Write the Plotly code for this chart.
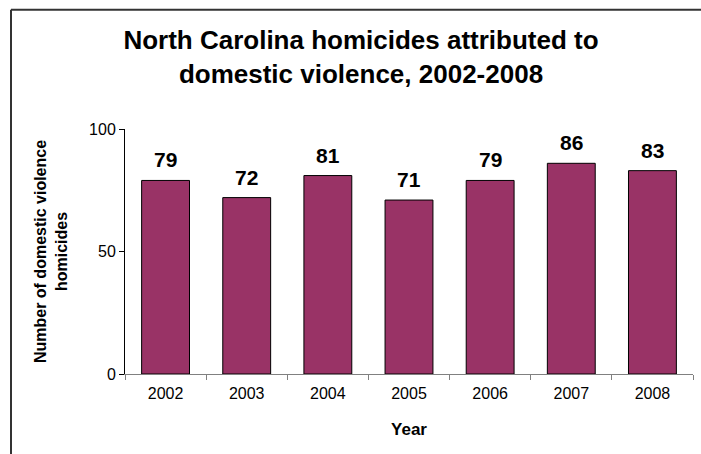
import plotly.graph_objects as go

years = ["2002", "2003", "2004", "2005", "2006", "2007", "2008"]
homicides = [79, 72, 81, 71, 79, 86, 83]

W, H = 701, 454
ml, mr, mt, mb = 125, 8, 128.5, 80
pw, ph = W - ml - mr, H - mt - mb
FONT = "Liberation Sans, Arial"

fig = go.Figure(go.Bar(
    x=years, y=homicides,
    marker=dict(color="#993366", line=dict(color="#000000", width=1)),
    hoverinfo="x+y",
))

for i, v in enumerate(homicides):
    fig.add_annotation(
        x=i, y=v, xref="x", yref="y", text=f"<b>{v}</b>",
        showarrow=False, yanchor="bottom", yshift=7,
        font=dict(family=FONT, size=21, color="#000000"),
    )

# chart border: only left and top edges are visible in the reference
bx0, by0 = (11 - ml) / pw, 1 + (mt - 9) / ph
bx1, by1 = (W + 10 - ml) / pw, -(mb + 10) / ph
border = dict(color="#333333", width=2)

fig.update_layout(
    width=W, height=H,
    margin=dict(l=ml, r=mr, t=mt, b=mb, pad=0, autoexpand=False),
    paper_bgcolor="white", plot_bgcolor="white",
    bargap=0.41,
    showlegend=False,
    font=dict(family=FONT, color="#000000"),
    title=dict(
        text="<b>North Carolina homicides attributed to<br>domestic violence, 2002-2008</b>",
        x=361 / W, xanchor="center", y=1 - 49 / H, yanchor="top",
        font=dict(size=26, family=FONT, color="#000000"),
    ),
    xaxis=dict(
        type="category", range=[-0.5, len(years) - 0.5], tickangle=0,
        tickson="boundaries", ticks="outside", ticklen=5,
        tickcolor="#808080", showline=True, linecolor="#808080", linewidth=1,
        tickfont=dict(size=16), showgrid=False, ticklabelstandoff=5,
        title=dict(text="<b>Year</b>", font=dict(size=17), standoff=21),
    ),
    yaxis=dict(
        range=[0, 100], tickvals=[0, 50, 100], ticks="outside", ticklen=5,
        tickcolor="#000000", showline=True, linecolor="#000000", linewidth=1,
        tickfont=dict(size=16), showgrid=False, zeroline=False,
        title=dict(text="<b>Number of domestic violence<br>homicides</b>", font=dict(size=16), standoff=17),
    ),
    shapes=[
        dict(type="line", xref="paper", yref="paper", x0=bx0, x1=bx1, y0=by0, y1=by0,
             line=border, layer="below"),
        dict(type="line", xref="paper", yref="paper", x0=bx0, x1=bx0, y0=by0, y1=by1,
             line=border, layer="below"),
    ],
)

fig.write_html(
    "out.html",
    config={"displayModeBar": False},
    post_script=(
        "document.body.style.margin='0';document.body.style.padding='0';"
        "document.body.style.overflow='hidden';"
        "document.documentElement.style.overflow='hidden';"
    ),
)
